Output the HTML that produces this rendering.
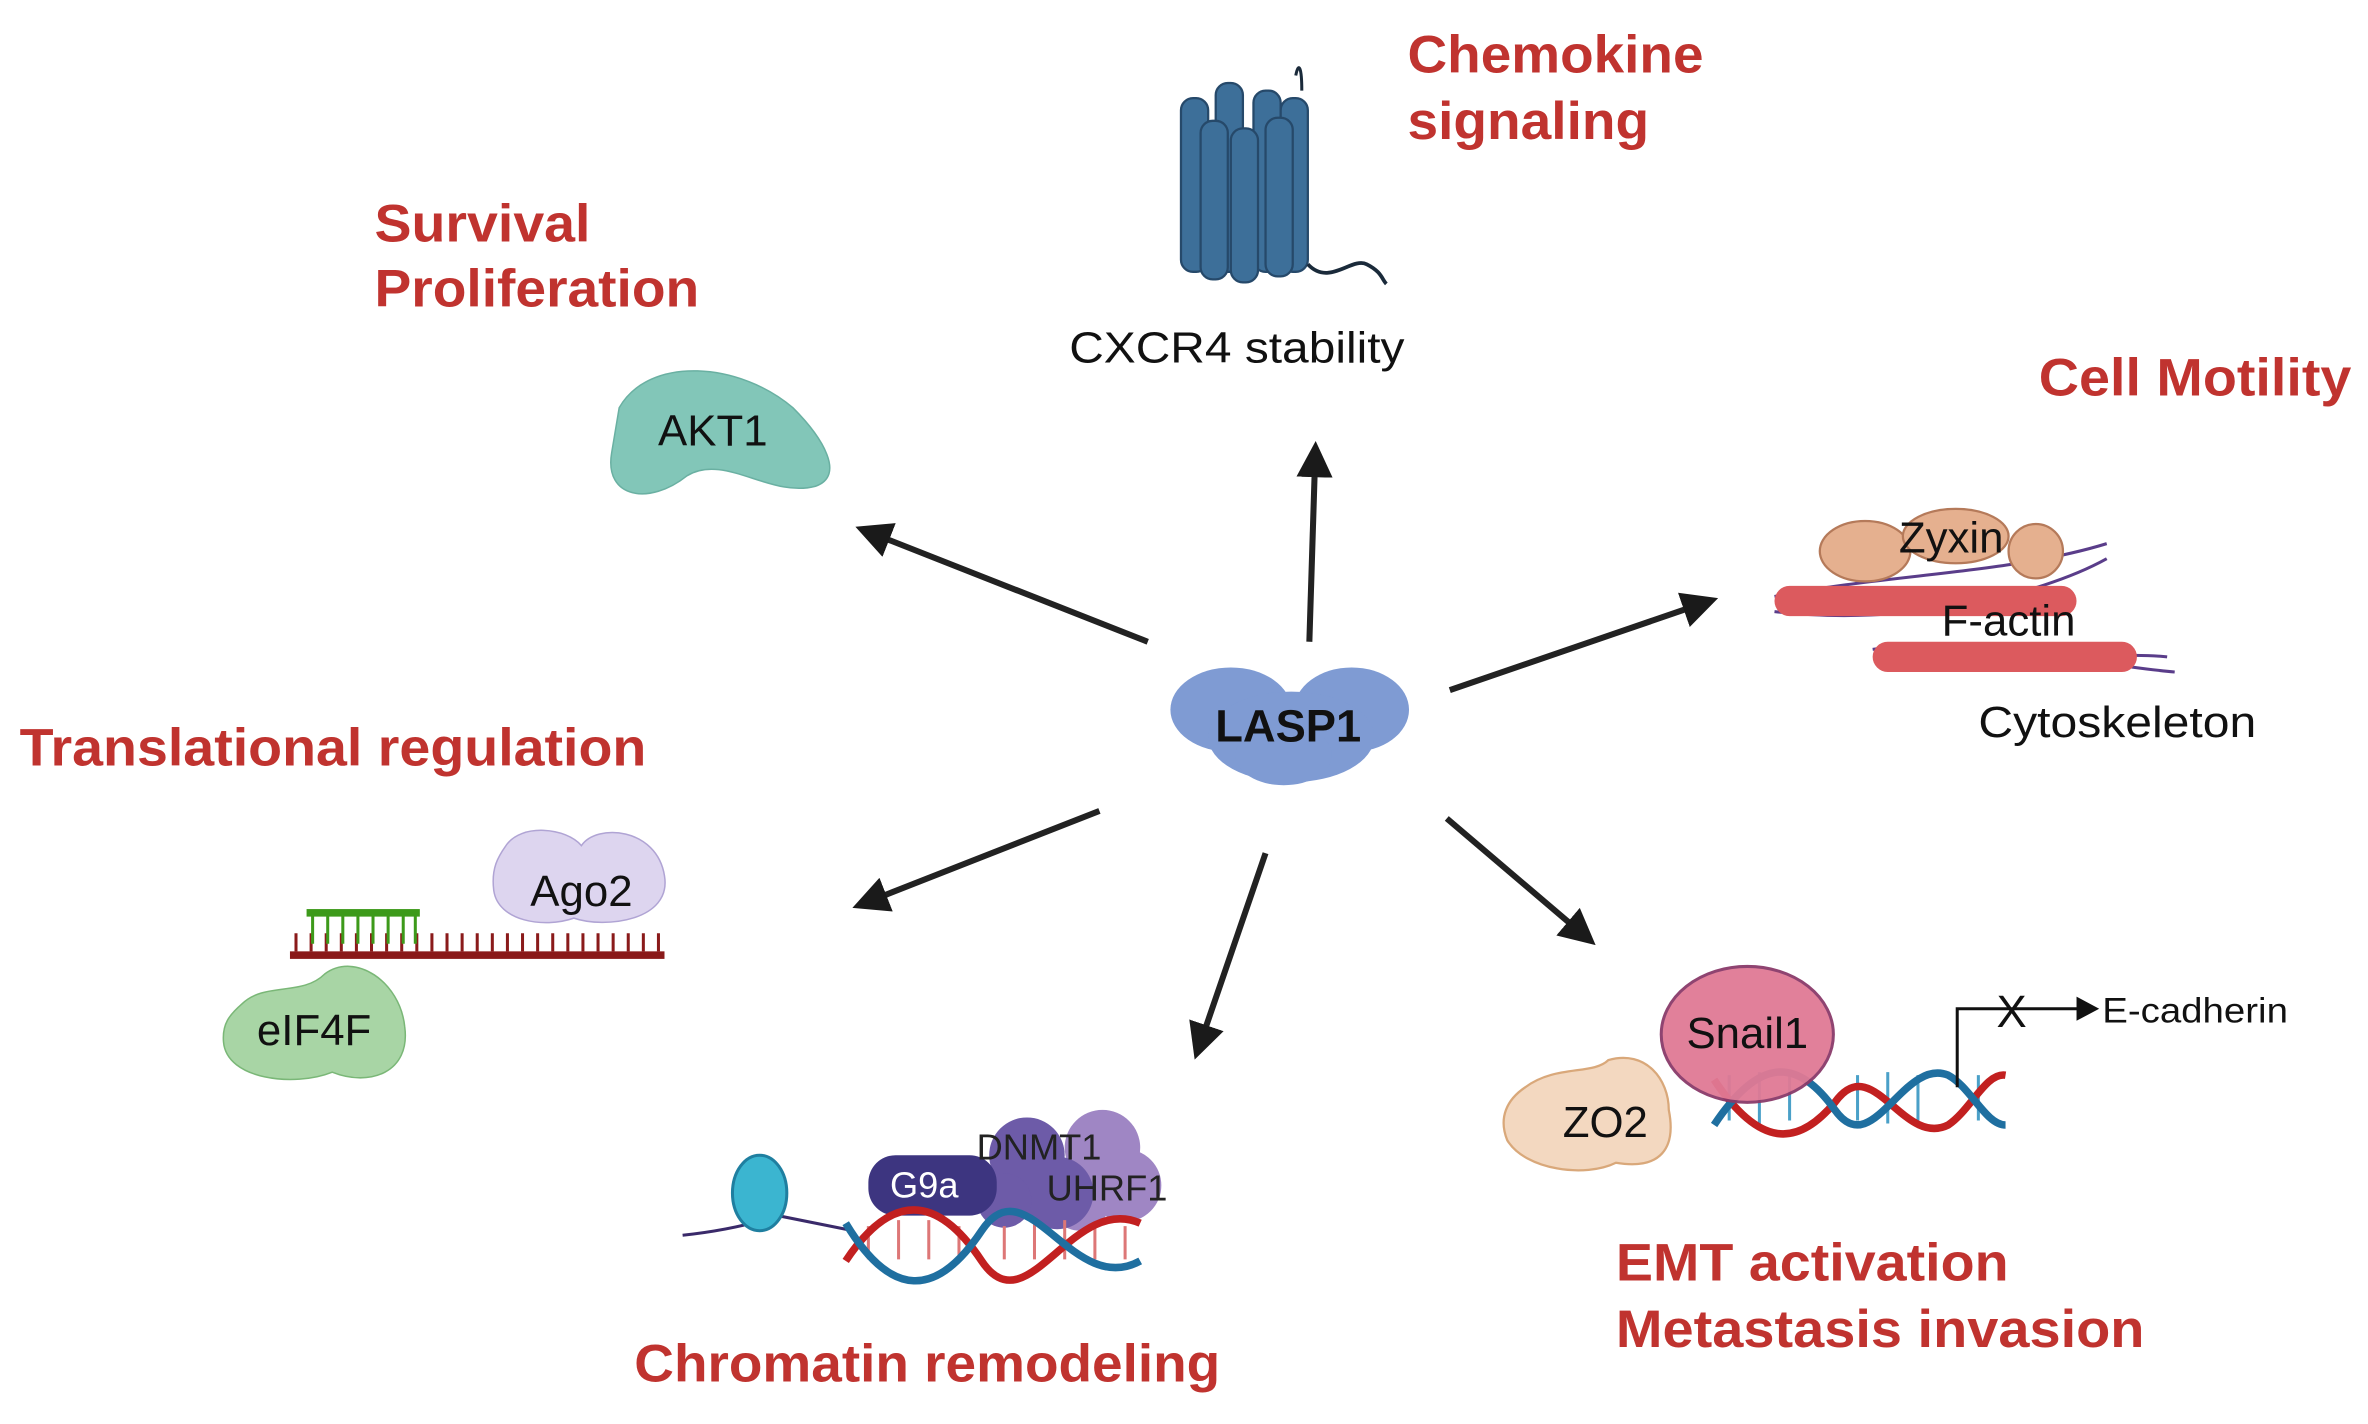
<!DOCTYPE html>
<html><head><meta charset="utf-8"><style>
html,body{margin:0;padding:0;background:#fff;}
svg{display:block;}
.t{font-family:"Liberation Sans",sans-serif;}
.red{fill:#c0332f;font-weight:bold;font-size:35px;}
.blk{fill:#111;font-size:29px;}
</style></head><body>
<svg width="2368" height="1424" viewBox="0 0 1568 943" preserveAspectRatio="none" xmlns="http://www.w3.org/2000/svg">
<defs>
<marker id="ah" markerWidth="6" markerHeight="6" refX="4.5" refY="3" orient="auto" markerUnits="strokeWidth">
<path d="M0,0 L6,3 L0,6 Z" fill="#1a1a1a"/></marker>
</defs>
<!-- arrows -->
<g stroke="#222" stroke-width="4" fill="none" marker-end="url(#ah)">
<line x1="760" y1="425" x2="572" y2="351"/>
<line x1="867" y1="425" x2="871" y2="298"/>
<line x1="960" y1="457" x2="1132" y2="398"/>
<line x1="728" y1="537" x2="570" y2="599"/>
<line x1="838" y1="565" x2="793" y2="696"/>
<line x1="958" y1="542" x2="1052" y2="622"/>
</g>
<!-- LASP1 -->
<g fill="#7f9bd3">
<ellipse cx="815" cy="470" rx="40" ry="28"/><ellipse cx="895" cy="470" rx="38" ry="28"/>
<ellipse cx="855" cy="488" rx="55" ry="30"/><ellipse cx="850" cy="500" rx="32" ry="20"/>
</g>
<text class="t" x="853" y="491" text-anchor="middle" font-weight="bold" font-size="30" fill="#111">LASP1</text>
<!-- AKT1 -->
<path d="M410,270 C430,235 490,240 525,270 C545,290 560,315 540,322 C510,330 480,300 455,315 C430,335 400,330 405,300 Z" fill="#82c6b8" stroke="#6ab0a2"/>
<text class="t blk" x="472" y="295" text-anchor="middle">AKT1</text>
<!-- CXCR4 -->
<g fill="#3d6f99" stroke="#26496a" stroke-width="1.5">
<rect x="782" y="65" width="18" height="115" rx="8"/><rect x="805" y="55" width="18" height="125" rx="8"/>
<rect x="830" y="60" width="18" height="120" rx="8"/><rect x="848" y="65" width="18" height="115" rx="8"/>
<rect x="795" y="80" width="18" height="105" rx="8"/><rect x="815" y="85" width="18" height="102" rx="8"/><rect x="838" y="78" width="18" height="105" rx="8"/>
</g>
<path d="M866,175 C880,190 895,170 905,175 C915,180 915,185 918,188" stroke="#1a2a3a" stroke-width="2.5" fill="none"/>
<path d="M858,50 C860,40 862,45 862,60" stroke="#1a2a3a" stroke-width="2" fill="none"/>
<text class="t blk" x="708" y="240" textLength="222" lengthAdjust="spacingAndGlyphs">CXCR4 stability</text>
<!-- Red labels -->
<text class="t red" x="932" y="48" textLength="196" lengthAdjust="spacingAndGlyphs">Chemokine</text>
<text class="t red" x="932" y="92" textLength="160" lengthAdjust="spacingAndGlyphs">signaling</text>
<text class="t red" x="248" y="160" textLength="143" lengthAdjust="spacingAndGlyphs">Survival</text>
<text class="t red" x="248" y="203" textLength="215" lengthAdjust="spacingAndGlyphs">Proliferation</text>
<text class="t red" x="1350" y="262" textLength="207" lengthAdjust="spacingAndGlyphs">Cell Motility</text>
<text class="t red" x="13" y="507" textLength="415" lengthAdjust="spacingAndGlyphs">Translational regulation</text>
<text class="t red" x="1070" y="848" textLength="260" lengthAdjust="spacingAndGlyphs">EMT activation</text>
<text class="t red" x="1070" y="892" textLength="350" lengthAdjust="spacingAndGlyphs">Metastasis invasion</text>
<text class="t red" x="420" y="915" textLength="388" lengthAdjust="spacingAndGlyphs">Chromatin remodeling</text>
<!-- Cytoskeleton -->
<g stroke="#5a3d8a" stroke-width="2" fill="none">
<path d="M1175,395 C1250,380 1330,380 1395,360"/><path d="M1175,405 C1260,415 1350,395 1395,370"/>
<path d="M1240,430 C1310,420 1380,440 1440,445"/><path d="M1245,440 C1320,445 1390,430 1435,435"/>
</g>
<g fill="#dc5a5e">
<rect x="1175" y="388" width="200" height="20" rx="10"/>
<rect x="1240" y="425" width="175" height="20" rx="10"/>
</g>
<g fill="#e5b08f" stroke="#b57a5a" stroke-width="1.5">
<ellipse cx="1235" cy="365" rx="30" ry="20"/><ellipse cx="1295" cy="355" rx="35" ry="18"/><ellipse cx="1348" cy="365" rx="18" ry="18"/>
</g>
<text class="t blk" x="1292" y="366" text-anchor="middle">Zyxin</text>
<text class="t blk" x="1330" y="421" text-anchor="middle">F-actin</text>
<text class="t blk" x="1310" y="488" textLength="184" lengthAdjust="spacingAndGlyphs">Cytoskeleton</text>
<!-- Translational -->
<rect x="192" y="630" width="248" height="5" fill="#8a1a1a"/>
<g stroke="#8a1a1a" stroke-width="2">
<path d="M196,618v12M206,618v12M216,618v12M226,618v12M236,618v12M246,618v12M256,618v12M266,618v12M276,618v12M286,618v12M296,618v12M306,618v12M316,618v12M326,618v12M336,618v12M346,618v12M356,618v12M366,618v12M376,618v12M386,618v12M396,618v12M406,618v12M416,618v12M426,618v12M436,618v12"/>
</g>
<rect x="203" y="602" width="75" height="5" fill="#3d9a1a"/>
<g stroke="#3d9a1a" stroke-width="2"><path d="M207,605v20M217,605v20M227,605v20M237,605v20M247,605v20M257,605v20M267,605v20M275,605v20"/></g>
<path d="M335,560 C345,545 375,548 385,560 C395,545 435,548 440,580 C445,610 400,615 380,608 C360,615 330,610 327,590 C325,575 330,567 335,560 Z" fill="#ddd5ef" stroke="#b0a4d4"/>
<text class="t blk" x="385" y="600" text-anchor="middle">Ago2</text>
<path d="M160,665 C175,650 200,660 215,645 C235,630 265,650 268,680 C272,710 245,720 220,710 C195,720 150,715 148,690 C147,678 152,672 160,665 Z" fill="#a8d5a5" stroke="#7ab777"/>
<text class="t blk" x="208" y="692" text-anchor="middle">eIF4F</text>
<!-- Chromatin -->
<path d="M452,818 C480,815 500,810 515,805 L565,815" stroke="#3a2a6a" stroke-width="2" fill="none"/>
<ellipse cx="503" cy="790" rx="18" ry="25" fill="#3bb5d0" stroke="#1f7fa0" stroke-width="2"/>
<g fill="#9f86c4"><circle cx="730" cy="760" r="25"/><circle cx="745" cy="785" r="24"/><circle cx="715" cy="795" r="20"/></g>
<g fill="#6d5ba8"><circle cx="680" cy="765" r="25"/><circle cx="700" cy="790" r="24"/><circle cx="665" cy="795" r="18"/></g>
<rect x="575" y="765" width="85" height="40" rx="18" fill="#3d3580"/>
<g stroke="#d77" stroke-width="2"><path d="M575,812v22M595,808v26M615,808v26M635,812v22M665,812v22M685,808v26M705,808v26M725,812v22M745,812v22"/></g>
<g stroke-width="5" fill="none">
<path d="M560,835 C590,790 620,790 650,835 C680,880 710,790 755,810" stroke="#c22020"/>
<path d="M560,810 C590,860 620,860 650,815 C680,770 710,860 755,835" stroke="#1f6fa0"/>
</g>
<text class="t" x="612" y="793" text-anchor="middle" font-size="24" fill="#fff">G9a</text>
<text class="t" x="688" y="768" text-anchor="middle" font-size="24" fill="#222">DNMT1</text>
<text class="t" x="733" y="795" text-anchor="middle" font-size="24" fill="#222">UHRF1</text>
<!-- EMT -->
<path d="M1010,720 C1030,705 1055,712 1065,702 C1090,695 1105,715 1105,735 C1110,760 1100,775 1070,770 C1050,780 1010,775 998,755 C992,740 998,728 1010,720 Z" fill="#f3d8c0" stroke="#d9a87a" stroke-width="1.5"/>
<text class="t blk" x="1063" y="753" text-anchor="middle">ZO2</text>
<g stroke="#4aa0c8" stroke-width="2"><path d="M1145,712v30M1165,710v34M1185,712v30M1230,712v30M1250,710v34M1270,712v30M1310,712v30"/></g>
<g stroke-width="5" fill="none">
<path d="M1135,715 C1165,760 1190,760 1215,730 C1240,695 1260,760 1290,745 C1305,735 1315,710 1328,712" stroke="#c22020"/>
<path d="M1135,745 C1165,700 1190,700 1215,735 C1240,770 1260,700 1290,712 C1305,720 1315,745 1328,745" stroke="#1f6fa0"/>
</g>
<ellipse cx="1157" cy="685" rx="57" ry="45" fill="#e07a95" stroke="#8a3a6a" stroke-width="2" opacity="0.95"/>
<text class="t blk" x="1157" y="694" text-anchor="middle">Snail1</text>
<path d="M1296,720 V668 H1378" stroke="#111" stroke-width="2" fill="none"/>
<path d="M1375,660 L1390,668 L1375,676 Z" fill="#111"/>
<text class="t" x="1332" y="680" text-anchor="middle" font-size="30" fill="#111">X</text>
<text class="t" x="1392" y="677" font-size="23" fill="#111" textLength="123" lengthAdjust="spacingAndGlyphs">E-cadherin</text>
</svg>
</body></html>
